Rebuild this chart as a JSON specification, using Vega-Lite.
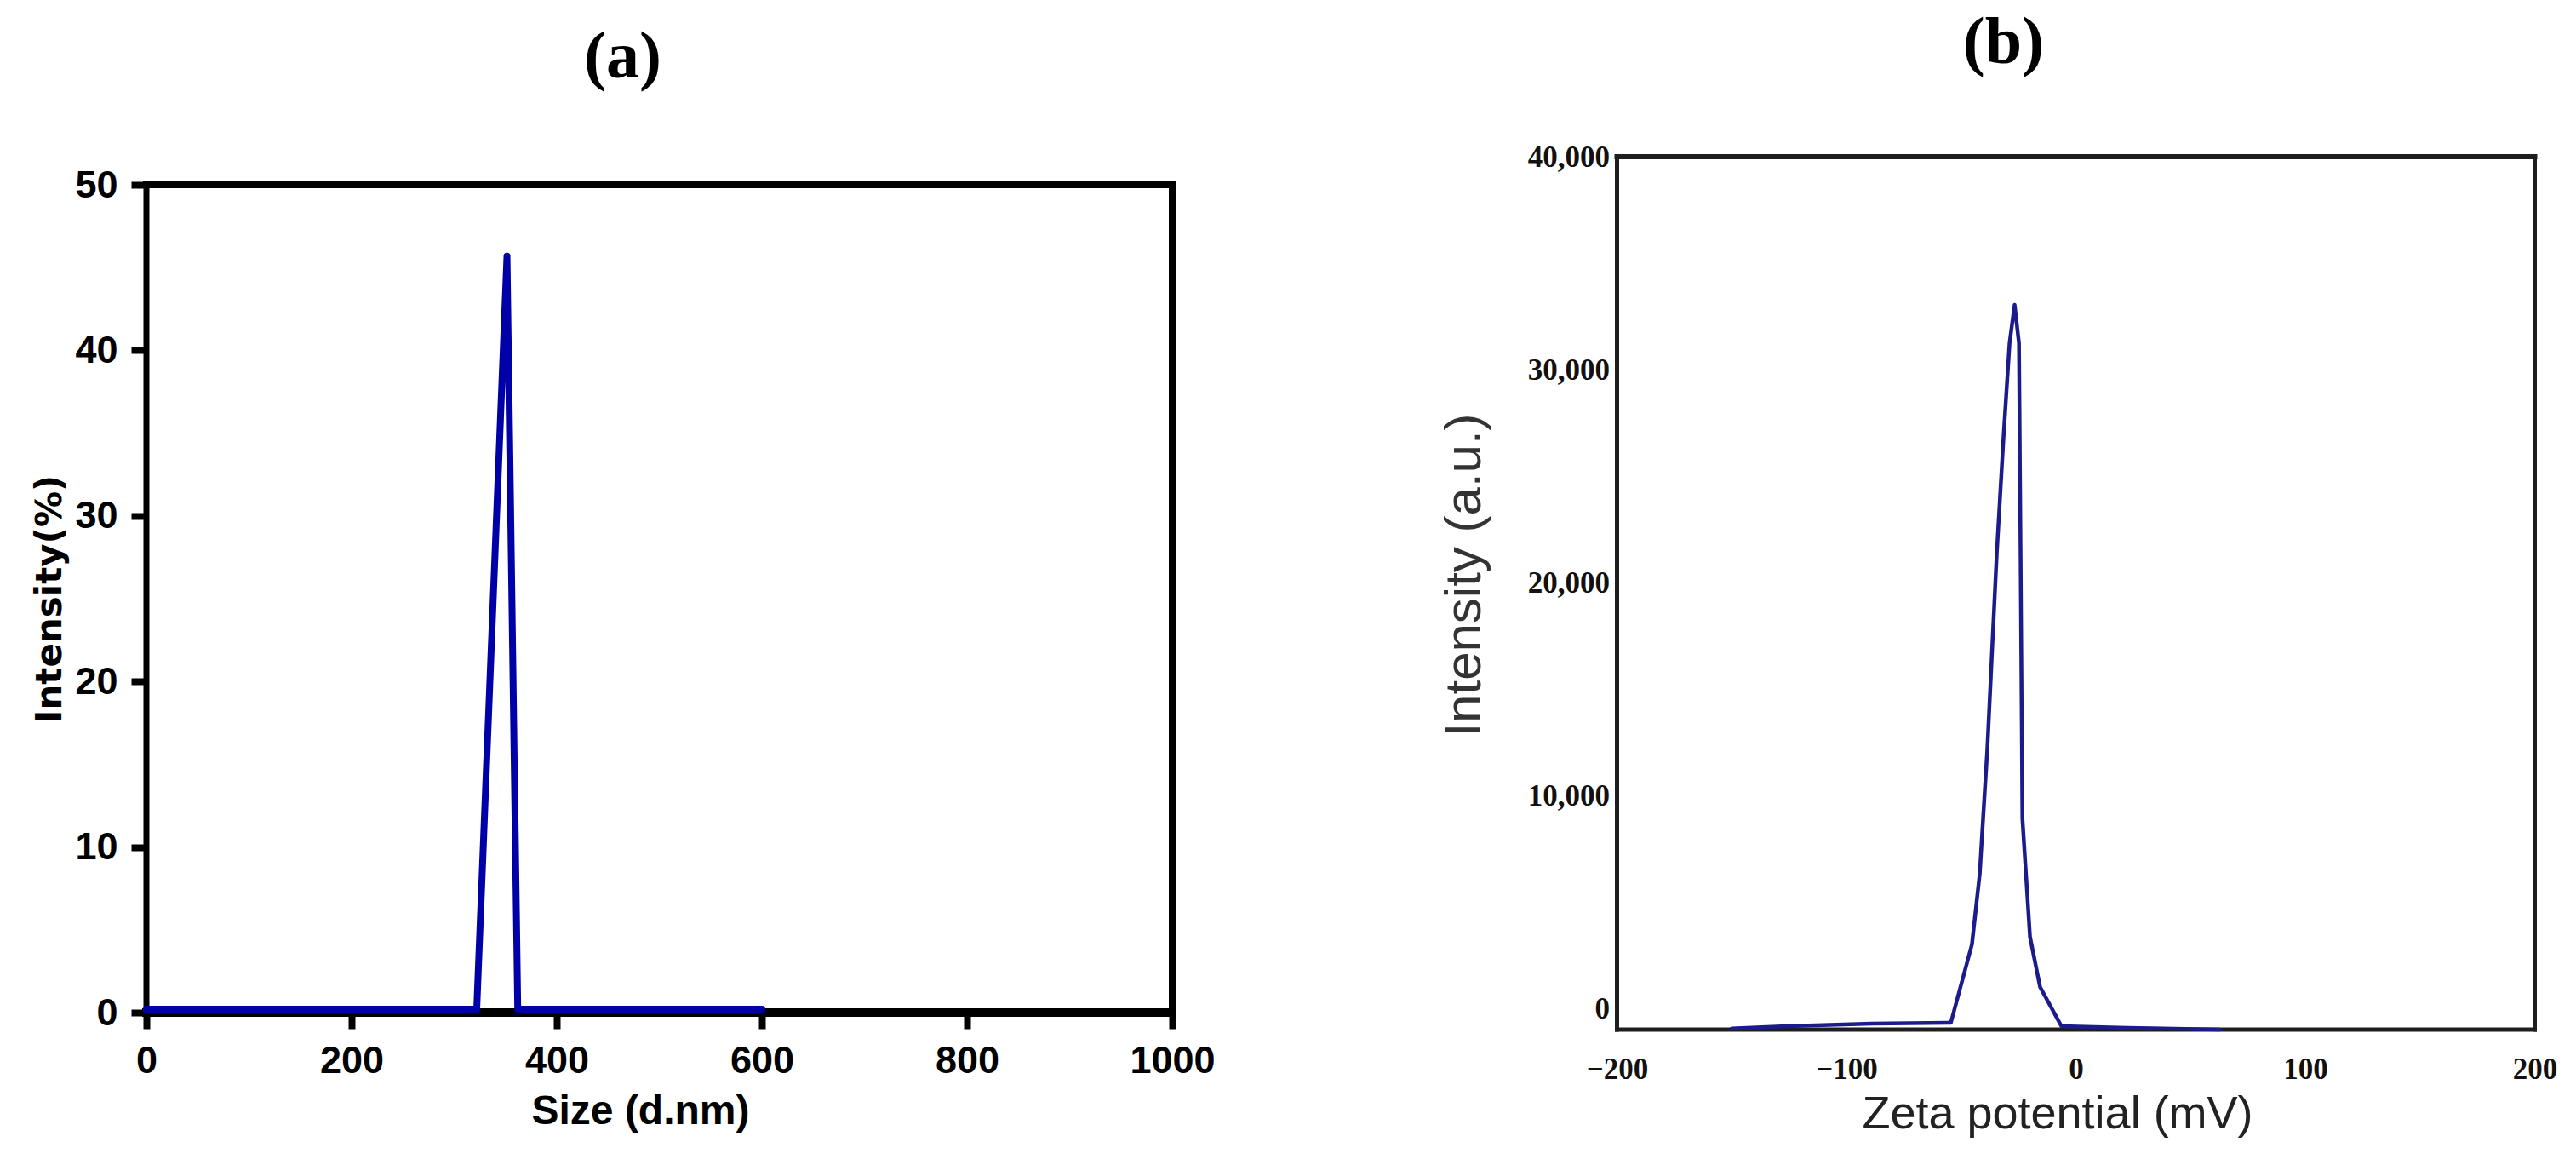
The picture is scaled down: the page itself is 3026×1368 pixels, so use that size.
{
  "$schema": "https://vega.github.io/schema/vega-lite/v6.json",
  "autosize": {"type": "pad"},
  "padding": {"left": 37, "top": 12, "right": 5, "bottom": 5},
  "background": "white",
  "bounds": "flush",
  "spacing": 522.5,
  "config": {
    "view": {"stroke": null},
    "axis": {"grid": false, "domain": false, "labelOverlap": false, "labelFlush": false}
  },
  "datasets": {
    "size": [
      {"size": 0, "intensity": 0.2},
      {"size": 322, "intensity": 0.2},
      {"size": 351.5, "intensity": 45.7},
      {"size": 362, "intensity": 0.2},
      {"size": 600, "intensity": 0.2}
    ],
    "zeta": [
      {"zeta": -150, "intensity": -950},
      {"zeta": -126, "intensity": -840},
      {"zeta": -89, "intensity": -720},
      {"zeta": -54.5, "intensity": -680},
      {"zeta": -45.3, "intensity": 3000},
      {"zeta": -41.9, "intensity": 6320},
      {"zeta": -38.6, "intensity": 12160},
      {"zeta": -34.5, "intensity": 21320},
      {"zeta": -31.5, "intensity": 26880},
      {"zeta": -28.9, "intensity": 31240},
      {"zeta": -26.7, "intensity": 33040},
      {"zeta": -24.8, "intensity": 31240},
      {"zeta": -24.1, "intensity": 21320},
      {"zeta": -23.3, "intensity": 8920},
      {"zeta": -20.0, "intensity": 3360},
      {"zeta": -15.6, "intensity": 1000},
      {"zeta": -6.3, "intensity": -840},
      {"zeta": 22.3, "intensity": -920},
      {"zeta": 62.7, "intensity": -1000}
    ],
    "one": [{}]
  },
  "hconcat": [
    {
      "width": 1205,
      "height": 1005,
      "title": {"text": "(a)", "font": "Liberation Serif", "fontSize": 78, "fontWeight": "bold", "color": "black", "anchor": "middle", "dx": -43, "offset": 77},
      "layer": [
        {
          "mark": {"type": "line", "color": "#0000A8", "strokeWidth": 7, "opacity": 0},
          "data": {"name": "size"},
          "encoding": {
            "x": {"field": "size", "type": "quantitative", "scale": {"domain": [0, 1000], "nice": false},
              "axis": {"title": "Size (d.nm)", "values": [0, 200, 400, 600, 800, 1000], "format": "d", "ticks": true, "tickSize": 19, "tickWidth": 8, "tickColor": "black",
                "labelFont": "Liberation Sans", "labelFontWeight": "bold", "labelFontSize": 45, "labelColor": "black", "labelPadding": 15,
                "titleFont": "Liberation Sans", "titleFontWeight": "bold", "titleFontSize": 48, "titleColor": "black", "titlePadding": 13, "titleX": 580}},
            "y": {"field": "intensity", "type": "quantitative", "scale": {"domain": [0, 51.7], "nice": false, "zero": false},
              "axis": {"title": "Intensity(%)", "values": [0, 10, 20, 30, 40, 50], "format": "d", "ticks": true, "tickSize": 18, "tickWidth": 8, "tickColor": "black",
                "labelFont": "Liberation Sans", "labelFontWeight": "bold", "labelFontSize": 45, "labelColor": "black", "labelPadding": 16,
                "titleFont": "DejaVu Sans", "titleFontWeight": "bold", "titleFontSize": 42, "titleColor": "black", "titlePadding": 7, "titleY": 519}}
          }
        },
        {"data": {"name": "one"}, "mark": {"type": "rule", "color": "black", "strokeWidth": 8, "strokeCap": "square"}, "encoding": {"y": {"datum": 50}}},
        {"data": {"name": "one"}, "mark": {"type": "rule", "color": "black", "strokeWidth": 10, "strokeCap": "square"}, "encoding": {"y": {"datum": 0}}},
        {"data": {"name": "one"}, "mark": {"type": "rule", "color": "black", "strokeWidth": 7, "strokeCap": "square"}, "encoding": {"x": {"datum": 0}, "y": {"datum": 0}, "y2": {"datum": 50}}},
        {"data": {"name": "one"}, "mark": {"type": "rule", "color": "black", "strokeWidth": 8, "strokeCap": "square"}, "encoding": {"x": {"datum": 1000}, "y": {"datum": 0}, "y2": {"datum": 50}}},
        {
          "mark": {"type": "line", "color": "#0000A8", "strokeWidth": 8, "strokeJoin": "round", "strokeCap": "round"},
          "data": {"name": "size"},
          "encoding": {
            "x": {"field": "size", "type": "quantitative"},
            "y": {"field": "intensity", "type": "quantitative"}
          }
        }
      ]
    },
    {
      "width": 1078,
      "height": 1025,
      "title": {"text": "(b)", "font": "Liberation Serif", "fontSize": 78, "fontWeight": "bold", "color": "black", "anchor": "middle", "dx": -85, "offset": 77},
      "layer": [
        {
          "mark": {"type": "line", "color": "#1b1b8c", "strokeWidth": 4.5, "opacity": 0},
          "data": {"name": "zeta"},
          "encoding": {
            "x": {"field": "zeta", "type": "quantitative", "scale": {"domain": [-200, 200], "nice": false},
              "axis": {"title": "Zeta potential (mV)", "values": [-200, -100, 0, 100, 200], "format": "d", "ticks": false, "tickSize": 0,
                "labelFont": "Liberation Serif", "labelFontWeight": "bold", "labelFontSize": 35, "labelColor": "#111", "labelPadding": 29,
                "titleFont": "Liberation Sans", "titleFontWeight": "normal", "titleFontSize": 54, "titleColor": "#222", "titlePadding": 8, "titleX": 517}},
            "y": {"field": "intensity", "type": "quantitative", "scale": {"domain": [-1000, 40000], "nice": false, "zero": false},
              "axis": {"title": "Intensity (a.u.)", "values": [0, 10000, 20000, 30000, 40000], "format": ",d", "ticks": false, "tickSize": 0,
                "labelFont": "Liberation Serif", "labelFontWeight": "bold", "labelFontSize": 35, "labelColor": "#111", "labelPadding": 9,
                "titleFont": "Liberation Sans", "titleFontWeight": "normal", "titleFontSize": 60, "titleColor": "#333", "titlePadding": 43, "titleY": 491}}
          }
        },
        {"data": {"name": "one"}, "mark": {"type": "rule", "color": "#1e1e1e", "strokeWidth": 6, "strokeCap": "square"}, "encoding": {"y": {"datum": 40000}}},
        {"data": {"name": "one"}, "mark": {"type": "rule", "color": "#1e1e1e", "strokeWidth": 5, "strokeCap": "square"}, "encoding": {"y": {"datum": -1000}}},
        {"data": {"name": "one"}, "mark": {"type": "rule", "color": "#1e1e1e", "strokeWidth": 5, "strokeCap": "square"}, "encoding": {"x": {"datum": -200}, "y": {"datum": -1000}, "y2": {"datum": 40000}}},
        {"data": {"name": "one"}, "mark": {"type": "rule", "color": "#1e1e1e", "strokeWidth": 5, "strokeCap": "square"}, "encoding": {"x": {"datum": 200}, "y": {"datum": -1000}, "y2": {"datum": 40000}}},
        {
          "mark": {"type": "line", "color": "#1b1b8c", "strokeWidth": 4.5, "strokeJoin": "round", "strokeCap": "round"},
          "data": {"name": "zeta"},
          "encoding": {
            "x": {"field": "zeta", "type": "quantitative"},
            "y": {"field": "intensity", "type": "quantitative"}
          }
        }
      ]
    }
  ]
}
